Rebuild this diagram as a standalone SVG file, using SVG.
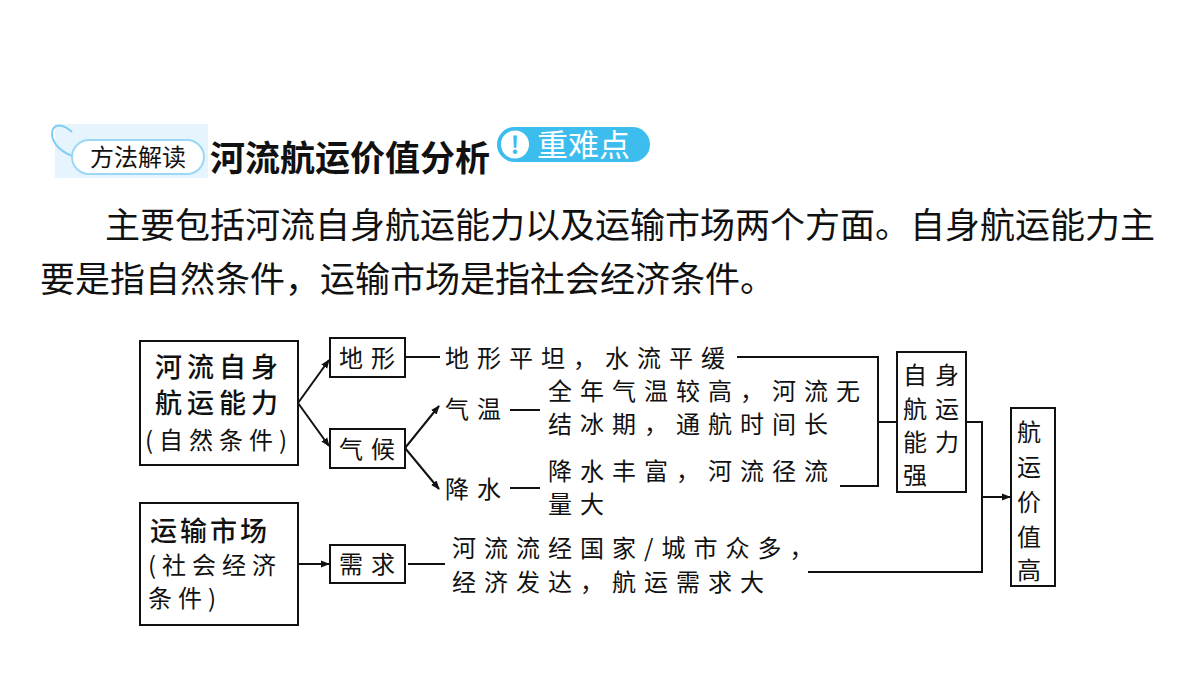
<svg xmlns="http://www.w3.org/2000/svg" width="1200" height="675" viewBox="0 0 1200 675">
<defs>
<style>
text{font-family:"Noto Sans CJK SC",sans-serif;fill:#111}
.d{font-size:24px;letter-spacing:8px}
.b{fill:#fff;stroke:#111;stroke-width:2}
.l{fill:none;stroke:#111;stroke-width:2}
</style>
<marker id="a" viewBox="0 0 10 10" refX="9" refY="5" markerWidth="9" markerHeight="9" markerUnits="userSpaceOnUse" orient="auto"><path d="M0,1 L10,5 L0,9 Z" fill="#111"/></marker>
</defs>
<rect width="1200" height="675" fill="#fff"/>
<g id="header">
<rect x="55" y="124" width="153" height="54" fill="#e6f4fd"/>
<path d="M72,132 C48,110 40,150 80,158" fill="none" stroke="#7fcdf2" stroke-width="2"/>
<rect x="72" y="140" width="132" height="34" rx="17" fill="#fff" stroke="#9bd8f5" stroke-width="2"/>
<text x="138" y="166" font-size="24" text-anchor="middle">方法解读</text>
<text x="210" y="171" font-size="35" font-weight="bold">河流航运价值分析</text>
<rect x="497" y="127" width="153" height="35" rx="17.5" fill="#3dbdee"/>
<circle cx="515" cy="144.5" r="15" fill="#fff" stroke="#3dbdee" stroke-width="2"/>
<text x="515" y="154" font-size="24" font-weight="bold" text-anchor="middle" style="fill:#3dbdee">!</text>
<text x="537" y="156" font-size="31" style="fill:#fff">重难点</text>
</g>
<g id="para">
<text x="105" y="238" font-size="35">主要包括河流自身航运能力以及运输市场两个方面。自身航运能力主</text>
<text x="40" y="292" font-size="35">要是指自然条件，运输市场是指社会经济条件。</text>
</g>
<g id="n1"><rect class="b" x="140" y="341" width="158" height="124"/>
<text x="219" y="377" font-size="27" letter-spacing="5" text-anchor="middle" font-weight="500">河流自身</text>
<text x="219" y="413" font-size="27" letter-spacing="5" text-anchor="middle" font-weight="500">航运能力</text>
<text x="219" y="449" font-size="24" text-anchor="middle" letter-spacing="6">(自然条件)</text></g>
<g id="n2"><rect class="b" x="140" y="503" width="158" height="122"/>
<text x="150" y="541" font-size="27" letter-spacing="3" font-weight="500">运输市场</text>
<text x="148" y="574" font-size="24" letter-spacing="6">(社会经济</text>
<text x="148" y="607" font-size="24" letter-spacing="6">条件)</text></g>
<g id="n3"><rect class="b" x="330" y="338" width="75" height="39"/><text class="d" x="371" y="367" text-anchor="middle">地形</text></g>
<g id="n4"><rect class="b" x="330" y="429" width="75" height="39"/><text class="d" x="371" y="458" text-anchor="middle">气候</text></g>
<g id="n5"><rect class="b" x="330" y="545" width="75" height="38"/><text class="d" x="371" y="573" text-anchor="middle">需求</text></g>
<g id="n6"><rect class="b" x="897" y="352" width="69" height="140"/>
<text class="d" x="903" y="384" letter-spacing="10">自身</text>
<text class="d" x="903" y="418" letter-spacing="10">航运</text>
<text class="d" x="903" y="451" letter-spacing="10">能力</text>
<text class="d" x="903" y="484">强</text></g>
<g id="n7"><rect class="b" x="1011" y="408" width="44" height="178"/>
<text class="d" x="1033" y="441" text-anchor="middle" letter-spacing="0">航</text>
<text class="d" x="1033" y="476" text-anchor="middle" letter-spacing="0">运</text>
<text class="d" x="1033" y="511" text-anchor="middle" letter-spacing="0">价</text>
<text class="d" x="1033" y="546" text-anchor="middle" letter-spacing="0">值</text>
<text class="d" x="1033" y="579" text-anchor="middle" letter-spacing="0">高</text></g>
<g id="labels">
<text class="d" x="445" y="367">地形平坦，水流平缓</text>
<text class="d" x="445" y="418">气温</text>
<text class="d" x="548" y="400">全年气温较高，河流无</text>
<text class="d" x="548" y="433">结冰期，通航时间长</text>
<text class="d" x="445" y="498">降水</text>
<text class="d" x="548" y="480">降水丰富，河流径流</text>
<text class="d" x="548" y="513">量大</text>
<text class="d" x="452" y="557">河流流经国家/城市众多，</text>
<text class="d" x="452" y="591">经济发达，航运需求大</text>
</g>
<g id="connectors">
<path class="l" d="M298,403 L329,360" marker-end="url(#a)"/>
<path class="l" d="M298,403 L329,446" marker-end="url(#a)"/>
<path class="l" d="M405,448 L439,406" marker-end="url(#a)"/>
<path class="l" d="M405,448 L439,489" marker-end="url(#a)"/>
<path class="l" d="M298,564 L329,564" marker-end="url(#a)"/>
<path class="l" d="M405,357 H440"/>
<path class="l" d="M510,410 H540"/>
<path class="l" d="M510,488 H540"/>
<path class="l" d="M408,564 H445"/>
<path class="l" d="M737,357 H878 V486 H840"/>
<path class="l" d="M878,422 H897"/>
<path class="l" d="M966,422 H982 V572 H808"/>
<path class="l" d="M982,497 H1010" marker-end="url(#a)"/>
</g>
</svg>
